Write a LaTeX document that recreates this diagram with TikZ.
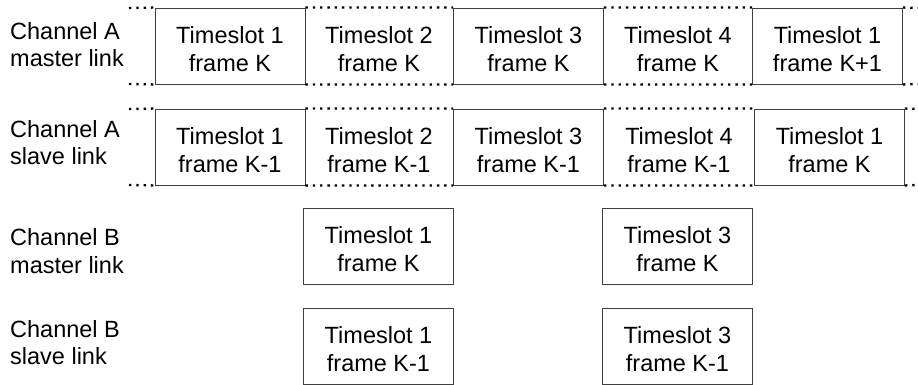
\documentclass[tikz,border=0pt]{standalone}
\usepackage{fontspec}
\setmainfont{Liberation Sans}
\begin{document}
\begin{tikzpicture}[x=1pt,y=-1pt,
  txt/.style={font=\fontsize{23.5}{27.5}\selectfont},
  slot/.style={txt, draw=black!75, line width=0.9pt, fill=white, minimum width=150pt, minimum height=76pt, inner sep=0pt, align=center, text height=50.5pt, text depth=0pt},
  gapslot/.style={txt, inner sep=0pt, align=center, text height=50.5pt, text depth=0pt},
  chan/.style={txt, anchor=west, inner sep=0pt, align=left},
  dots/.style={line width=2.3pt, dash pattern=on 2.4pt off 4.9pt}]
\useasboundingbox (0,0) rectangle (918,385);

% labels
\node[chan] (la) at (10,44.5) {Channel A\\master link};
\node[chan] (lb) at (10,142.5) {Channel A\\slave link};
\node[chan] (lc) at (10,251) {Channel B\\master link};
\node[chan] (ld) at (10,342.5) {Channel B\\slave link};

% row 1: channel A master
\node[slot] (a1) at (230,46) {Timeslot 1\\frame K};
\node[gapslot] (a2) at (379,46) {Timeslot 2\\frame K};
\node[slot] (a3) at (528.5,46) {Timeslot 3\\frame K};
\node[gapslot] (a4) at (678,46) {Timeslot 4\\frame K};
\node[slot] (a5) at (827.5,46) {Timeslot 1\\frame K+1};
\coordinate (aLt) at (129,8);
\coordinate (aLb) at (129,84);
\coordinate (aRt) at (918,8);
\coordinate (aRb) at (918,84);
\draw[dots] (aLt) -- (a1.north west) (a1.north east) -- (a3.north west)
  (a3.north east) -- (a5.north west) (a5.north east) -- (aRt);
\draw[dots] (aLb) -- (a1.south west) (a1.south east) -- (a3.south west)
  (a3.south east) -- (a5.south west) (a5.south east) -- (aRb);

% row 2: channel A slave
\node[slot] (b1) at (230,147) {Timeslot 1\\frame K-1};
\node[gapslot] (b2) at (379,147) {Timeslot 2\\frame K-1};
\node[slot] (b3) at (528.5,147) {Timeslot 3\\frame K-1};
\node[gapslot] (b4) at (679,147) {Timeslot 4\\frame K-1};
\node[slot] (b5) at (829.5,147) {Timeslot 1\\frame K};
\coordinate (bLt) at (129,109);
\coordinate (bLb) at (129,185);
\coordinate (bRt) at (918,109);
\coordinate (bRb) at (918,185);
\draw[dots] (bLt) -- (b1.north west) (b1.north east) -- (b3.north west)
  (b3.north east) -- (b5.north west) (b5.north east) -- (bRt);
\draw[dots] (bLb) -- (b1.south west) (b1.south east) -- (b3.south west)
  (b3.south east) -- (b5.south west) (b5.south east) -- (bRb);

% row 3: channel B master
\node[slot] (c1) at (378.5,246) {Timeslot 1\\frame K};
\node[slot] (c3) at (677.5,246) {Timeslot 3\\frame K};

% row 4: channel B slave
\node[slot] (d1) at (378.5,346) {Timeslot 1\\frame K-1};
\node[slot] (d3) at (677.5,346) {Timeslot 3\\frame K-1};
\end{tikzpicture}
\end{document}
